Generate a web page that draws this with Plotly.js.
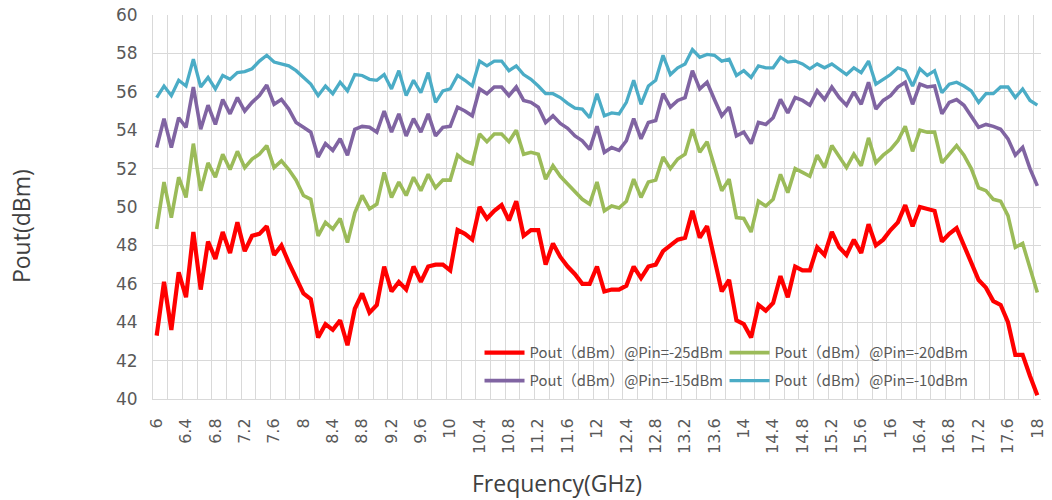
<!DOCTYPE html>
<html>
<head>
<meta charset="utf-8">
<script src="https://cdn.plot.ly/plotly-3.0.1.min.js"></script>
<style>html,body{margin:0;padding:0;background:#fff;}#chart{width:1052px;height:500px;}</style>
</head>
<body>
<div id="chart"></div>
<script>
var freq = [6,6.1,6.2,6.3,6.4,6.5,6.6,6.7,6.8,6.9,7,7.1,7.2,7.3,7.4,7.5,7.6,7.7,7.8,7.9,8,8.1,8.2,8.3,8.4,8.5,8.6,8.7,8.8,8.9,9,9.1,9.2,9.3,9.4,9.5,9.6,9.7,9.8,9.9,10,10.1,10.2,10.3,10.4,10.5,10.6,10.7,10.8,10.9,11,11.1,11.2,11.3,11.4,11.5,11.6,11.7,11.8,11.9,12,12.1,12.2,12.3,12.4,12.5,12.6,12.7,12.8,12.9,13,13.1,13.2,13.3,13.4,13.5,13.6,13.7,13.8,13.9,14,14.1,14.2,14.3,14.4,14.5,14.6,14.7,14.8,14.9,15,15.1,15.2,15.3,15.4,15.5,15.6,15.7,15.8,15.9,16,16.1,16.2,16.3,16.4,16.5,16.6,16.7,16.8,16.9,17,17.1,17.2,17.3,17.4,17.5,17.6,17.7,17.8,17.9,18];

var pin25 = [43.3,46.1,43.6,46.6,45.3,48.7,45.7,48.2,47.3,48.7,
47.6,49.2,47.7,48.5,48.6,49.0,47.5,48.0,47.1,46.3,
45.5,45.2,43.2,43.9,43.6,44.1,42.8,44.7,45.5,44.5,
44.9,46.9,45.6,46.1,45.7,46.9,46.1,46.9,47.0,47.0,
46.7,48.8,48.6,48.3,50.0,49.4,49.8,50.1,49.3,50.3,
48.5,48.8,48.8,47.0,48.1,47.4,46.9,46.5,46.0,46.0,
46.9,45.6,45.7,45.7,45.9,46.9,46.3,46.9,47.0,47.7,
48.0,48.3,48.4,49.8,48.4,49.0,47.3,45.6,46.2,44.1,
43.9,43.2,44.9,44.6,45.0,46.4,45.3,46.9,46.7,46.7,
47.9,47.5,48.7,47.9,47.5,48.3,47.6,49.1,48.0,48.3,
48.8,49.2,50.1,49.0,50.0,49.9,49.8,48.2,48.6,48.9,
48.0,47.1,46.2,45.8,45.1,44.9,44.0,42.3,42.3,41.2,
40.2];

var pin20 = [48.85,51.3,49.45,51.55,50.5,53.3,50.85,52.3,51.55,52.75,
51.95,52.9,52.05,52.5,52.75,53.2,52.05,52.4,51.95,51.4,
50.6,50.4,48.5,49.2,48.85,49.4,48.15,49.7,50.6,49.9,
50.15,51.8,50.5,51.3,50.6,51.55,50.85,51.7,51.0,51.4,
51.4,52.7,52.4,52.25,53.8,53.4,53.8,53.8,53.4,54.0,
52.75,52.85,52.75,51.45,52.15,51.6,51.2,50.8,50.4,50.15,
51.3,49.8,50.05,49.95,50.3,51.45,50.5,51.3,51.4,52.6,
52.0,52.5,52.75,54.05,52.85,53.4,52.05,50.85,51.45,49.45,
49.4,48.7,50.3,50.05,50.4,51.7,50.75,52.0,51.8,51.6,
52.7,52.05,53.2,52.6,52.05,52.75,52.15,53.6,52.3,52.7,
53.0,53.45,54.2,52.9,54.0,53.9,53.9,52.3,52.75,53.2,
52.7,52.0,51.0,50.85,50.4,50.3,49.55,47.9,48.1,46.8,
45.55];

var pin15 = [53.1,54.6,53.1,54.65,54.15,56.25,54.05,55.3,54.3,55.6,
54.85,55.7,55.0,55.45,55.8,56.35,55.35,55.6,55.1,54.4,
54.15,53.9,52.6,53.3,52.95,53.55,52.7,54.05,54.2,54.15,
53.9,55.0,53.9,54.85,53.7,54.6,53.9,54.85,53.7,54.15,
54.2,55.2,55.0,54.75,56.15,55.9,56.25,56.25,55.8,56.25,
55.55,55.45,55.2,54.4,54.75,54.35,54.1,53.7,53.45,53.0,
54.2,52.85,53.1,52.95,53.45,54.6,53.55,54.4,54.5,55.9,
55.2,55.55,55.7,57.1,56.15,56.5,55.6,54.75,55.2,53.7,
53.9,53.3,54.4,54.3,54.65,55.6,54.9,55.7,55.55,55.3,
56.05,55.6,56.25,55.7,55.3,56.0,55.35,56.5,55.1,55.55,
55.8,56.25,56.5,55.35,56.4,56.25,56.3,54.85,55.45,55.6,
55.3,54.75,54.15,54.3,54.2,54.05,53.55,52.7,53.1,52.0,
51.1];

var pin10 = [55.7,56.3,55.8,56.6,56.3,57.7,56.25,56.75,56.15,56.85,
56.65,57.0,57.05,57.2,57.6,57.9,57.55,57.45,57.35,57.1,
56.75,56.4,55.8,56.3,55.9,56.5,56.05,56.9,56.85,56.65,
56.6,56.9,56.15,57.1,55.8,56.6,55.95,57.0,55.45,56.05,
56.15,56.85,56.6,56.3,57.6,57.35,57.6,57.6,57.1,57.35,
56.9,56.65,56.3,55.9,55.9,55.7,55.4,55.15,55.1,54.65,
55.9,54.75,54.9,54.85,55.45,56.6,55.35,56.3,56.6,57.9,
56.9,57.25,57.45,58.2,57.8,57.95,57.9,57.6,57.7,56.85,
57.1,56.75,57.35,57.25,57.25,57.8,57.55,57.6,57.45,57.2,
57.45,57.25,57.45,57.2,56.9,57.25,57.0,57.6,56.4,56.65,
56.9,57.25,57.1,56.3,57.2,56.85,57.1,55.95,56.4,56.5,
56.3,56.05,55.45,55.9,55.9,56.25,56.25,55.7,56.15,55.55,
55.3];

var tickVals = [6,6.4,6.8,7.2,7.6,8,8.4,8.8,9.2,9.6,10,10.4,10.8,11.2,11.6,12,12.4,12.8,13.2,13.6,14,14.4,14.8,15.2,15.6,16,16.4,16.8,17.2,17.6,18];
var tickText = ["6","6.4","6.8","7.2","7.6","8","8.4","8.8","9.2","9.6","10","10.4","10.8","11.2","11.6","12","12.4","12.8","13.2","13.6","14","14.4","14.8","15.2","15.6","16","16.4","16.8","17.2","17.6","18"];

var names = ["Pout（dBm）@Pin=-25dBm","Pout（dBm）@Pin=-20dBm","Pout（dBm）@Pin=-15dBm","Pout（dBm）@Pin=-10dBm"];
var colors = ["#ff0000","#9bbb59","#8064a2","#4bacc6"];

var series = [pin25, pin20, pin15, pin10];
var widths = [4.2, 3.6, 3.6, 3.3];
var legendIds = ["legend","legend","legend2","legend2"];

var traces = series.map(function(vals, k){
  return {
    x: freq, y: vals, type: 'scatter', mode: 'lines', name: names[k],
    line: {color: colors[k], width: widths[k]},
    legend: legendIds[k], hoverinfo: 'x+y'
  };
});

var gridColor = '#d9d9d9';
var legendFont = {family: '"Noto Sans CJK SC", "Noto Sans", sans-serif', size: 14.8, color: '#595959'};

var layout = {
  width: 1052, height: 500,
  margin: {l: 153, r: 11, t: 15, b: 101, pad: 0, autoexpand: false},
  paper_bgcolor: '#ffffff', plot_bgcolor: '#ffffff',
  showlegend: true,
  xaxis: {
    range: [5.95, 18.05], tickmode: 'array', tickvals: tickVals, ticktext: tickText,
    tickangle: -90, showgrid: false, zeroline: false, ticks: '',
    showline: true, linecolor: gridColor, linewidth: 1,
    tickfont: {family: '"DejaVu Sans", sans-serif', size: 16, color: '#595959'},
    ticklabelstandoff: 12,
    minor: {tick0: 5.95, dtick: 0.2, showgrid: true, gridcolor: gridColor, gridwidth: 1, ticks: ''}
  },
  yaxis: {
    range: [40, 60], dtick: 2, tick0: 40, showgrid: true, gridcolor: gridColor, gridwidth: 1,
    zeroline: false, ticks: '', showline: true, linecolor: gridColor, linewidth: 1,
    tickfont: {family: '"DejaVu Sans", sans-serif', size: 17, color: '#595959'},
    ticklabelstandoff: 11
  },
  legend: {
    orientation: 'h', x: 0.3677, xanchor: 'left', y: 0.1198, yanchor: 'middle',
    bgcolor: 'rgba(0,0,0,0)', borderwidth: 0, font: legendFont,
    entrywidth: 190, entrywidthmode: 'pixels', itemwidth: 40, traceorder: 'normal'
  },
  legend2: {
    orientation: 'h', x: 0.3677, xanchor: 'left', y: 0.0469, yanchor: 'middle',
    bgcolor: 'rgba(0,0,0,0)', borderwidth: 0, font: legendFont,
    entrywidth: 190, entrywidthmode: 'pixels', itemwidth: 40, traceorder: 'normal'
  },
  annotations: [
    {text: 'Frequency(GHz)', xref: 'paper', yref: 'paper', x: 0.455, y: -0.21875,
     xanchor: 'center', yanchor: 'middle', showarrow: false,
     font: {family: '"Open Sans", sans-serif', size: 23, color: '#404040'}},
    {text: 'Pout(dBm)', xref: 'paper', yref: 'paper', x: -0.1486, y: 0.4505,
     xanchor: 'center', yanchor: 'middle', showarrow: false, textangle: -90,
     font: {family: '"Open Sans", sans-serif', size: 23, color: '#404040'}}
  ]
};

Plotly.newPlot('chart', traces, layout, {displayModeBar: false, staticPlot: true});
</script>
</body>
</html>
